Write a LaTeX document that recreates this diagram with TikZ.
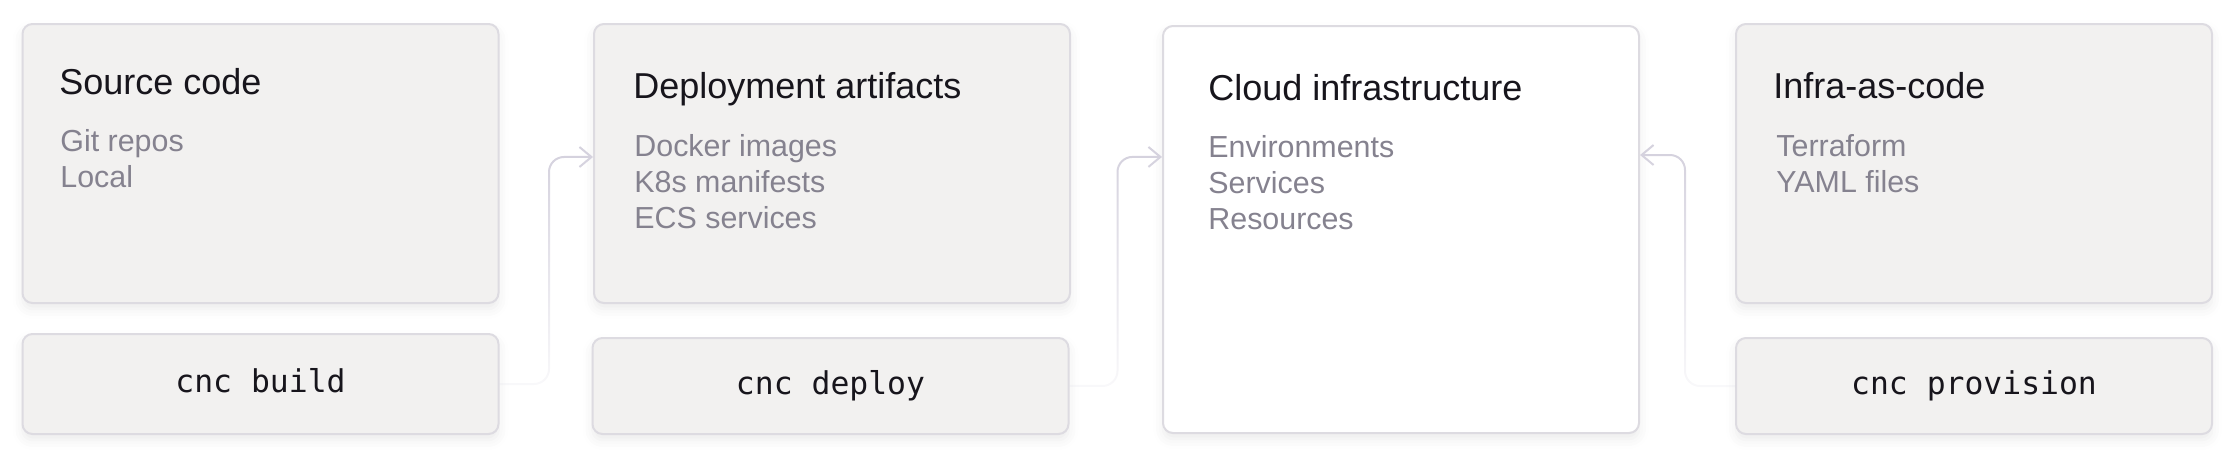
\documentclass[tikz,border=0pt]{standalone}
\usepackage{fontspec}
\setmainfont{Liberation Sans}
\setmonofont{DejaVu Sans Mono}
\usetikzlibrary{arrows.meta,fadings,shadows.blur}

\definecolor{cardfill}{HTML}{F2F1F0}
\definecolor{cardline}{HTML}{DDDBE1}
\definecolor{titletext}{HTML}{17151C}
\definecolor{itemtext}{HTML}{85828F}
\definecolor{flowline}{HTML}{D5D2DE}

\tikzfading[name=flowfade, top color=transparent!0, bottom color=transparent!85]

\begin{document}
\begin{tikzpicture}[x=0.5pt,y=0.5pt,
    card/.style={draw=cardline, line width=1pt, fill=cardfill, rounded corners=5pt,
        inner sep=0pt, anchor=north west, minimum width=238pt,
        blur shadow={shadow xshift=0pt, shadow yshift=-3pt, shadow blur radius=5pt, shadow opacity=8}},
    cmdbox/.style={card, minimum height=48pt, text=titletext,
        font=\ttfamily\fontsize{15.7}{18}\selectfont, text height=10pt, text depth=2pt},
    title/.style={anchor=base west, inner sep=0pt, text=titletext, font=\fontsize{18}{22}\selectfont},
    items/.style={anchor=base west, inner sep=0pt, align=left, text=itemtext, font=\fontsize{15.2}{18}\selectfont},
    flow/.style={draw=flowline, line width=1pt, rounded corners=7.5pt,
        -{Straight Barb[length=6pt,width=10pt]}, path fading=flowfade}]
    \useasboundingbox (0,0) rectangle (2232,-456);
    % cards
    \node[card, minimum height=139.5pt] (src) at (21.5,-23) {};
    \node[card, minimum height=139.5pt] (art) at (593,-23) {};
    \node[card, minimum height=203.5pt, fill=white] (cloud) at (1162,-25) {};
    \node[card, minimum height=139.5pt] (iac) at (1735,-23) {};
    % commands
    \node[cmdbox, minimum height=50pt] (bld) at (21.5,-333) {cnc build};
    \node[cmdbox] (dpl) at (591.5,-337) {cnc deploy};
    \node[cmdbox] (prv) at (1735,-337) {cnc provision};
    % texts (items sit on the base of their last line)
    \node[title] (srct) at (59,-94) {Source code};
    \node[items] (srci) at (60,-187) {Git repos\\Local};
    \node[title] (artt) at (633,-98.3) {Deployment artifacts};
    \node[items] (arti) at (634,-228) {Docker images\\K8s manifests\\ECS services};
    \node[title] (cloudt) at (1208,-100) {Cloud infrastructure};
    \node[items] (cloudi) at (1208,-229) {Environments\\Services\\Resources};
    \node[title] (iact) at (1773,-98.3) {Infra-as-code};
    \node[items] (iaci) at (1776,-192) {Terraform\\YAML files};
    % flows
    \draw[flow] (bld.east) -- ++(49.5,0) |- ([yshift=-67pt]art.north west);
    \draw[flow] (dpl.east) -- ++(48,0) |- ([yshift=-66pt]cloud.north west);
    \draw[flow] (prv.west) -- ++(-50,0) |- ([yshift=-65pt]cloud.north east);
\end{tikzpicture}
\end{document}
